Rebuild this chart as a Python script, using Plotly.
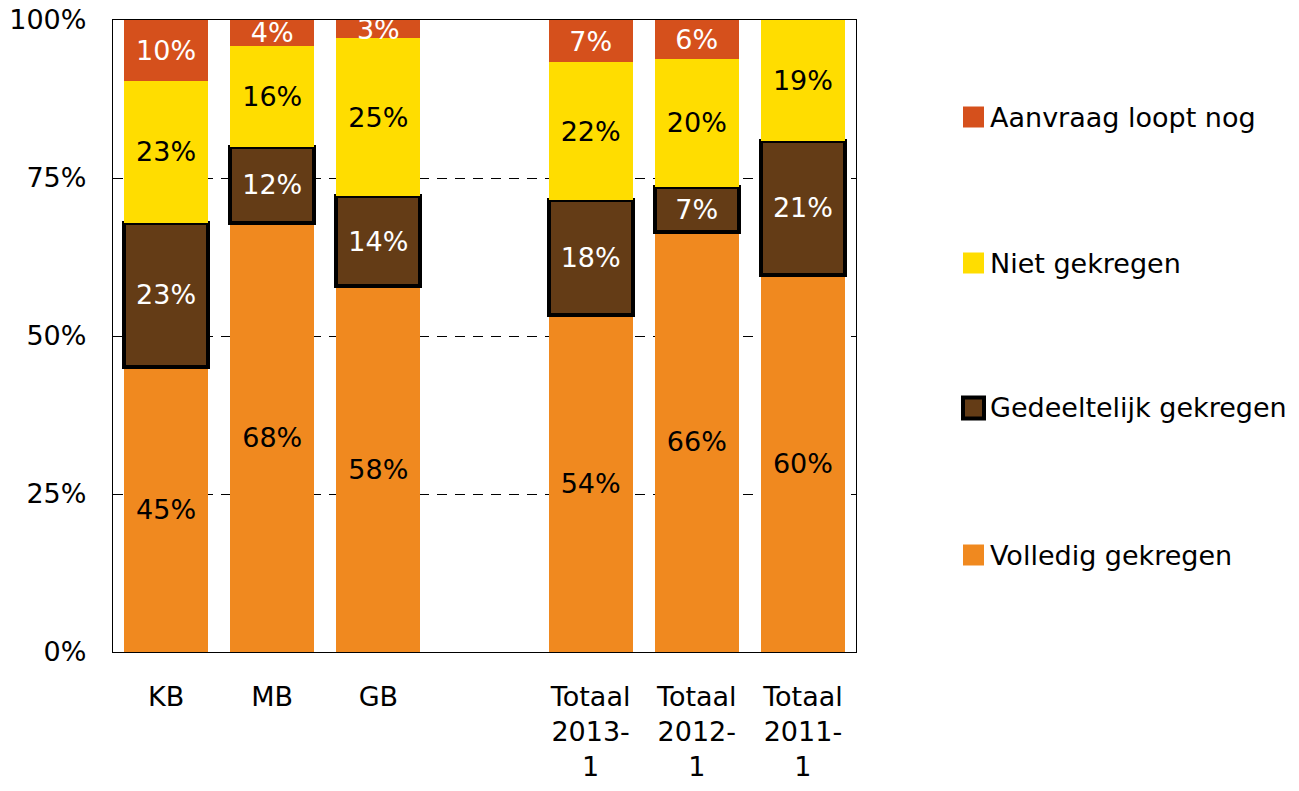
import plotly.graph_objects as go

# ---- data ----
categories = ["KB", "MB", "GB", " ", "Totaal<br>2013-<br>1", "Totaal<br>2012-<br>1", "Totaal<br>2011-<br>1"]
series_names = ["Volledig gekregen", "Gedeeltelijk gekregen", "Niet gekregen", "Aanvraag loopt nog"]
volledig = [45.1, 67.9, 57.9, None, 53.3, 66.5, 59.7]
gedeeltelijk = [22.8, 12.0, 14.2, None, 18.2, 7.1, 21.2]
niet = [22.5, 16.0, 25.0, None, 21.8, 20.3, 19.1]
aanvraag = [9.6, 4.1, 2.9, None, 6.7, 6.1, 0.0]
label_volledig = [45, 68, 58, None, 54, 66, 60]
label_gedeeltelijk = [23, 12, 14, None, 18, 7, 21]
label_niet = [23, 16, 25, None, 22, 20, 19]
label_aanvraag = [10, 4, 3, None, 7, 6, None]
y_tickvals = [0, 25, 50, 75, 100]
y_ticktext = ["0%", "25%", "50%", "75%", "100%"]

colors = ["#F0891F", "#643C16", "#FFDD00", "#D5501C"]
text_colors = ["#000000", "#FFFFFF", "#000000", "#FFFFFF"]
line_widths = [0, 4, 0, 0]

FONT = "DejaVu Sans"
FS = 27

W, H = 1299, 791
PLOT_L, PLOT_R, PLOT_T, PLOT_B = 113, 856, 20, 652  # page pixels
ML, MT = PLOT_L, PLOT_T
PW, PH = PLOT_R - PLOT_L, PLOT_B - PLOT_T
MR, MB = W - ML - PW, H - MT - PH


def px_x(px):
    return (px - PLOT_L) / PW


def px_y(py):
    return (PLOT_B - py) / PH


def fmt(labels):
    return ["" if v is None else f"{v}%" for v in labels]


fig = go.Figure()
values = [volledig, gedeeltelijk, niet, aanvraag]
labels = [label_volledig, label_gedeeltelijk, label_niet, label_aanvraag]
for name, vals, labs, col, tcol, lw in zip(series_names, values, labels, colors, text_colors, line_widths):
    fig.add_trace(go.Bar(
        x=categories, y=vals, name=name,
        marker=dict(color=col, line=dict(color="#000000", width=lw)),
        text=fmt(labs), textposition="inside", insidetextanchor="middle",
        textangle=0, constraintext="none",
        insidetextfont=dict(family=FONT, size=FS, color=tcol),
        width=0.79, showlegend=False, cliponaxis=True,
    ))

# manual legend (top to bottom: reverse of stacking order)
legend_y = [117, 263, 408, 555]
for i, (name, col, lw) in enumerate(zip(series_names[::-1], colors[::-1], line_widths[::-1])):
    yc = legend_y[i]
    fig.add_shape(type="rect", xref="paper", yref="paper",
                  x0=px_x(963), x1=px_x(984), y0=px_y(yc - 10.5), y1=px_y(yc + 10.5),
                  fillcolor=col, line=dict(color="#000000", width=lw if lw else 0))
    fig.add_annotation(xref="paper", yref="paper", x=px_x(988), y=px_y(yc),
                       text=name, showarrow=False, xanchor="left", yanchor="middle",
                       font=dict(family=FONT, size=FS, color="#000000"))

fig.update_layout(
    width=W, height=H,
    margin=dict(l=ML, r=MR, t=MT, b=MB, autoexpand=False),
    barmode="stack",
    paper_bgcolor="white", plot_bgcolor="white",
    font=dict(family=FONT, size=FS, color="#000000"),
    showlegend=False,
)
fig.update_xaxes(
    type="category", categoryorder="array", categoryarray=categories,
    showline=True, mirror=True, linecolor="#000000", linewidth=1.3,
    showgrid=False, ticks="", ticklabelstandoff=20, automargin=False,
    ticklabeloverflow="allow",
    tickfont=dict(family=FONT, size=FS, color="#000000"),
)
fig.update_yaxes(
    range=[0, 100], tickvals=y_tickvals, ticktext=y_ticktext,
    showline=True, mirror=True, linecolor="#000000", linewidth=1.3,
    showgrid=True, gridcolor="#000000", gridwidth=1.2, griddash="10px,8px",
    zeroline=False, ticks="", ticklabelstandoff=20, automargin=False,
    ticklabeloverflow="allow",
    tickfont=dict(family=FONT, size=FS, color="#000000"),
)

fig.write_html(
    "out.html",
    config={"displayModeBar": False},
    post_script="document.body.style.margin='0';document.body.style.overflow='hidden';",
)
